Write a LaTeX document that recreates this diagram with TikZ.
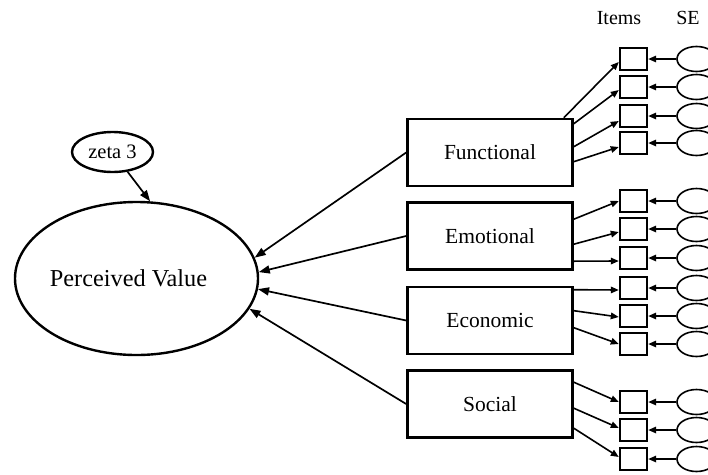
\documentclass[tikz,border=0pt]{standalone}
\usepackage{fontspec}
\setmainfont{Liberation Serif}
\usetikzlibrary{shapes.geometric,arrows.meta,calc}
\begin{document}
\begin{tikzpicture}[x=1pt,y=-1pt,
  latent/.style={ellipse, draw, line width=2.4pt, inner sep=0pt},
  factor/.style={rectangle, draw, line width=2.6pt, minimum width=165pt,
    minimum height=67pt, inner sep=0pt, font=\fontsize{21.5}{24}\selectfont},
  item/.style={rectangle, draw, line width=2.4pt, minimum width=27pt,
    minimum height=22pt, inner sep=0pt},
  err/.style={ellipse, draw, line width=1.6pt, minimum width=39pt,
    minimum height=25pt, inner sep=0pt},
  regpath/.style={line width=1.7pt, -{Triangle[length=11pt,width=8pt]}},
  load/.style={line width=1.6pt, -{Triangle[length=8pt,width=6.5pt]}},
  head/.style={font=\fontsize{20}{22}\selectfont},
]
\useasboundingbox (0,0) rectangle (708,474);

% column headings
\node[head] (items) at (619,18) {Items};
\node[head] (se) at (688,18) {SE};

% second-order latent and its disturbance
\node[latent, minimum width=243pt, minimum height=153pt,
  font=\fontsize{24.3}{27}\selectfont] (pv) at (136.5,278.5)
  {\hspace*{-16pt}Perceived Value};
\node[latent, minimum width=81pt, minimum height=40pt,
  font=\fontsize{20.5}{23}\selectfont] (zeta) at (112.5,152) {zeta 3};
\draw[regpath] (zeta) -- (pv.80);

% first-order factors
\node[factor] (f)  at (490,152.5) {Functional};
\node[factor] (em) at (490,236)   {Emotional};
\node[factor] (ec) at (490,320.5) {Economic};
\node[factor] (so) at (490,404)   {Social};

\draw[regpath] (f.west)  -- (pv.10.4);
\draw[regpath] (em.west) -- (pv.3.1);
\draw[regpath] (ec.west) -- (pv.-5.5);
\draw[regpath] (so.west) -- (pv.-15.9);

% observed items with their error terms
\foreach \n/\y in {1/59,2/87,3/116,4/143,5/201,6/229,7/258,
                   8/288,9/316,10/344,11/402,12/430,13/459}{
  \node[item] (i\n) at (633.5,\y) {};
  \node[err]  (e\n) at (696.5,\y) {};
  \draw[load] (e\n) -- (i\n);
}

% loadings
\draw[load] ($(f.north east)+(-10,0)$) -- ($(i1.west)+(0,3)$);
\draw[load] ($(f.north east)+(0,6)$)   -- ($(i2.west)+(0,3)$);
\draw[load] ($(f.north east)+(0,29)$)  -- ($(i3.west)+(0,5)$);
\draw[load] ($(f.north east)+(0,44)$)  -- ($(i4.west)+(0,4)$);

\draw[load] ($(em.north east)+(0,18)$) -- ($(i5.west)+(0,0)$);
\draw[load] ($(em.north east)+(0,43)$) -- ($(i6.west)+(0,3)$);
\draw[load] ($(em.north east)+(0,60)$) -- ($(i7.west)+(0,3)$);

\draw[load] ($(ec.north east)+(0,4)$)  -- ($(i8.west)+(0,2)$);
\draw[load] ($(ec.north east)+(0,25)$) -- ($(i9.west)+(0,1)$);
\draw[load] ($(ec.north east)+(0,42)$) -- ($(i10.west)+(0,0)$);

\draw[load] ($(so.north east)+(0,13)$) -- ($(i11.west)+(0,0)$);
\draw[load] ($(so.north east)+(0,39)$) -- ($(i12.west)+(0,-2)$);
\draw[load] ($(so.north east)+(0,59)$) -- ($(i13.west)+(0,-2)$);
\end{tikzpicture}
\end{document}
